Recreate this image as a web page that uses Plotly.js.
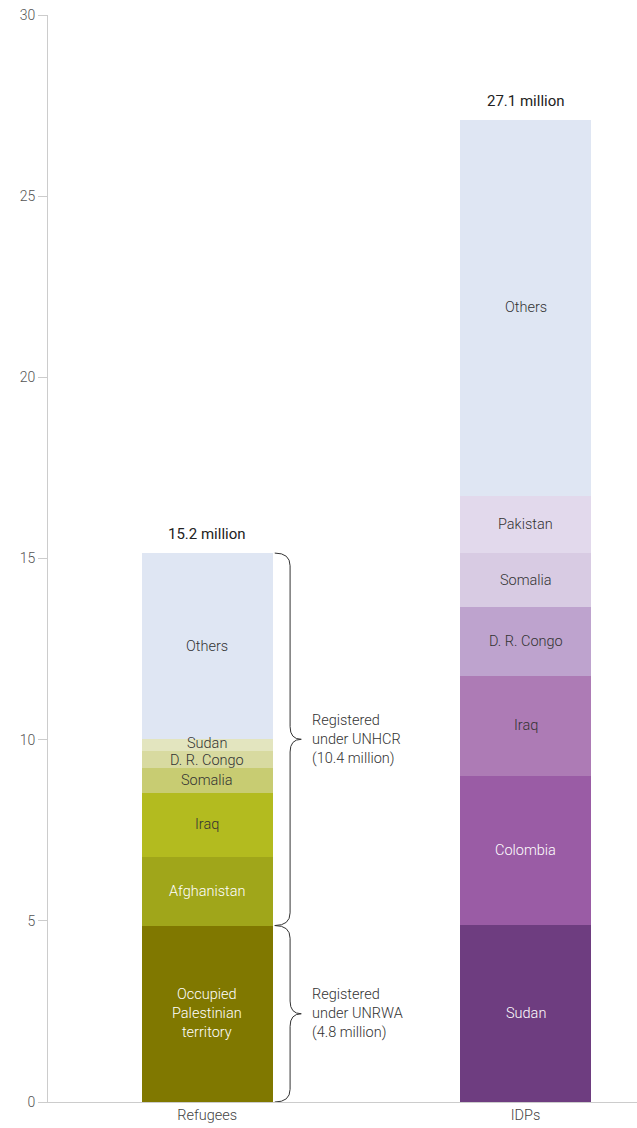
<!DOCTYPE html>
<html><head><meta charset="utf-8">
<script src="https://cdn.plot.ly/plotly-3.0.1.min.js"></script>
<style>html,body{margin:0;padding:0;background:#fff}#chart{width:637px;height:1128px}</style>
</head><body><div id="chart"></div>
<script>
// Data (millions)
const categories = ["Refugees", "IDPs"];
const refugeeLabels = ["Occupied<br>Palestinian<br>territory", "Afghanistan", "Iraq", "Somalia", "D. R. Congo", "Sudan", "Others"];
const refugeeValues = [4.87, 1.90, 1.77, 0.69, 0.47, 0.32, 5.13];
const refugeeColors = ["#807800", "#a0a61a", "#b3bb1f", "#c8cc72", "#d8daa0", "#e3e5bf", "#dfe6f3"];
const refugeeTextDark = [false, false, true, true, true, true, true];

const idpLabels = ["Sudan", "Colombia", "Iraq", "D. R. Congo", "Somalia", "Pakistan", "Others"];
const idpValues = [4.89, 4.12, 2.75, 1.90, 1.49, 1.58, 10.37];
const idpColors = ["#6e3d80", "#9a5ca5", "#ad7bb5", "#bea3ce", "#d8cbe3", "#e2d9ec", "#dfe6f3"];
const idpTextDark = [false, false, true, true, true, true, true];

const totalLabels = ["15.2 million", "27.1 million"];
const braceLabels = ["Registered<br>under UNRWA<br>(4.8 million)", "Registered<br>under UNHCR<br>(10.4 million)"];
const yTicks = [0, 5, 10, 15, 20, 25, 30];

const FONT = "Roboto, 'Liberation Sans', Arial, sans-serif";
const BW = 0.412;

const traces = [];
const annotations = [];
function addStack(catIdx, labels, values, colors, dark) {
  let base = 0;
  values.forEach((v, i) => {
    traces.push({
      type: "bar", x: [categories[catIdx]], y: [v], base: [base],
      marker: {color: colors[i], line: {width: 0}}, width: BW,
      hoverinfo: "skip", showlegend: false
    });
    // tiny segments: nudge labels apart slightly so they don't collide
    const tiny = v < 0.5;
    annotations.push({
      x: categories[catIdx], y: base + v / 2, xref: "x", yref: "y",
      text: labels[i], showarrow: false,
      yshift: tiny ? (labels[i] === "Sudan" ? 1 : -1) : 0,
      font: {family: FONT, size: 14.5, weight: 300, color: dark[i] ? "#333" : "#fff"},
      align: "center"
    });
    base += v;
  });
  annotations.push({
    x: categories[catIdx], y: base, xref: "x", yref: "y",
    text: totalLabels[catIdx], showarrow: false, yanchor: "bottom", yshift: 8,
    font: {family: FONT, size: 15, weight: 400, color: "#222"}
  });
  return base;
}
addStack(0, refugeeLabels, refugeeValues, refugeeColors, refugeeTextDark);
addStack(1, idpLabels, idpValues, idpColors, idpTextDark);

// Braces for refugees (UNRWA: first segment, UNHCR: rest)
const unrwaTop = refugeeValues[0];
const refTotal = refugeeValues.reduce((a, b) => a + b, 0);
const xa = 0.385, xb = 0.411, xt = 0.430; // paper coords
const cv = 0.35; // curve height in data units
function bracePath(y0, y1) {
  const m = (y0 + y1) / 2;
  return `M ${xa} ${y1} Q ${xb} ${y1} ${xb} ${y1 - cv} L ${xb} ${m + cv} Q ${xb} ${m} ${xt} ${m} ` +
         `Q ${xb} ${m} ${xb} ${m - cv} L ${xb} ${y0 + cv} Q ${xb} ${y0} ${xa} ${y0}`;
}
const shapes = [
  {type: "path", xref: "paper", yref: "y", path: bracePath(0, unrwaTop), line: {color: "#333", width: 1}},
  {type: "path", xref: "paper", yref: "y", path: bracePath(unrwaTop, refTotal), line: {color: "#333", width: 1}}
];
[[0, unrwaTop], [unrwaTop, refTotal]].forEach((r, i) => {
  annotations.push({
    x: 0.445, xref: "paper", y: (r[0] + r[1]) / 2, yref: "y",
    text: braceLabels[i], showarrow: false, xanchor: "left", align: "left",
    font: {family: FONT, size: 14.5, weight: 300, color: "#333"}
  });
});

const layout = {
  width: 637, height: 1128,
  margin: {l: 48, r: 0, t: 15, b: 26},
  paper_bgcolor: "#fff", plot_bgcolor: "#fff",
  barmode: "overlay", bargap: 0,
  showlegend: false,
  font: {family: FONT, size: 14, color: "#444"},
  xaxis: {
    type: "category", range: [-0.5, 1.35], showgrid: false, zeroline: false,
    showline: true, linecolor: "#cccccc", linewidth: 1, ticks: "",
    tickfont: {family: FONT, size: 14.5, weight: 300, color: "#444"}, fixedrange: true
  },
  yaxis: {
    range: [0, 30], tickvals: yTicks, ticktext: yTicks.map(String),
    showgrid: false, zeroline: false, showline: true, linecolor: "#cccccc", linewidth: 1,
    ticks: "outside", ticklen: 9, tickcolor: "#cccccc",
    tickfont: {family: FONT, size: 14, weight: 300, color: "#555"}, fixedrange: true
  },
  shapes: shapes,
  annotations: annotations
};
Plotly.newPlot("chart", traces, layout, {displayModeBar: false, staticPlot: true});
</script></body></html>
